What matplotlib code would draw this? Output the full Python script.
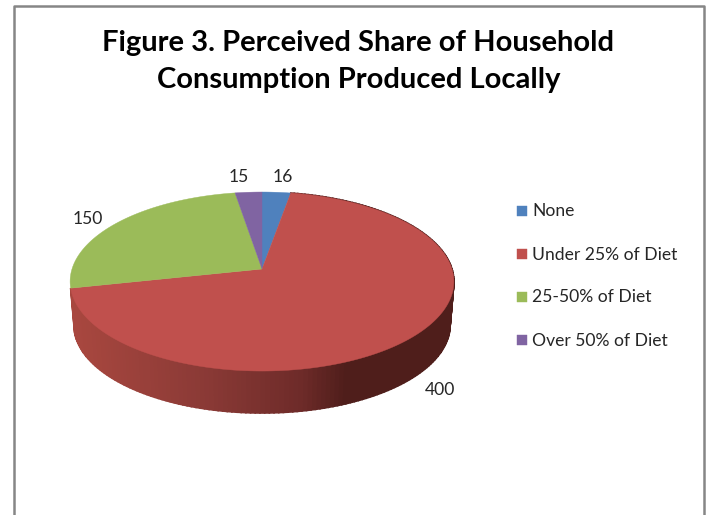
import numpy as np
import matplotlib
matplotlib.use("Agg")
import matplotlib.pyplot as plt
from matplotlib.patches import Polygon
from matplotlib.colors import LinearSegmentedColormap

plt.rcParams['font.family'] = ['Lato', 'DejaVu Sans']

title = "Figure 3. Perceived Share of Household\nConsumption Produced Locally"
categories = ["None", "Under 25% of Diet", "25-50% of Diet", "Over 50% of Diet"]
values = [16, 400, 150, 15]
colors = ["#4F81BD", "#C0504D", "#9BBB59", "#8064A2"]
label_pos = [(283, 177), (440, 390), (88, 219), (239, 177)]
legend_y = [211, 254, 297, 340]

W, H = 709, 515
fig = plt.figure(figsize=(W / 100, H / 100), dpi=100, facecolor="white")
ax = fig.add_axes([0, 0, 1, 1])
ax.set_xlim(0, W)
ax.set_ylim(H, 0)
ax.axis("off")

# perspective projection of a flat disc
CX, CY = 262, 269
K, k, c = 190.0, 87.75, 0.14


def project(theta, scale=1.0, drop=0.0):
    u, v = np.sin(theta), np.cos(theta)
    w = 1 + c * v
    return np.column_stack([CX + scale * K * u / w, CY + drop - scale * k * v / w])


edges = np.radians(np.cumsum([0] + values) / sum(values) * 360)

# side wall of the large slice, shaded across its width
rim_cmap = LinearSegmentedColormap.from_list(
    "rim", [(0, "#A8473F"), (0.34, "#8B3A36"), (0.6, "#6E2B29"), (0.72, "#4F1E1B"), (1, "#4F1E1B")])
t = np.linspace(edges[1], edges[2], 200)
top = project(t)
bot = project(t, 0.98, 44)
for i in range(len(t) - 1):
    quad = np.vstack([top[i], top[i + 1], bot[i + 1], bot[i]])
    shade = (quad[:, 0].mean() - 75) / (450 - 75)
    col = rim_cmap(np.clip(shade, 0, 1))
    ax.add_patch(Polygon(quad, closed=True, fc=col, ec=col, lw=1.2, zorder=1))

# top face
for a, b, col in zip(edges[:-1], edges[1:], colors):
    arc = project(np.linspace(a, b, 300))
    ax.add_patch(Polygon(np.vstack([[CX, CY], arc]), closed=True, fc=col, ec=col, lw=0.3, zorder=2))

# value labels
for v, (x, y) in zip(values, label_pos):
    ax.text(x, y, str(v), ha="center", va="center", fontsize=12.6, color="#262626", zorder=3)

# legend
for name, col, y in zip(categories, colors, legend_y):
    ax.add_patch(Polygon([(517, y - 5), (527, y - 5), (527, y + 5), (517, y + 5)], closed=True,
                         fc=col, ec=col, lw=0.3, zorder=3))
    ax.text(532.5, y + 0.5, name, ha="left", va="center", fontsize=12.65, color="#262626", zorder=3)

ax.text(358.5, 61.5, title, ha="center", va="center", fontsize=21, fontweight="bold",
        color="black", linespacing=1.5, zorder=3)

# chart border, open at the bottom
ax.plot([13.5, 13.5, 704, 704], [H, 6, 6, H], color="#868686", lw=1.8, zorder=3)

fig.savefig("out.png", dpi=100)
